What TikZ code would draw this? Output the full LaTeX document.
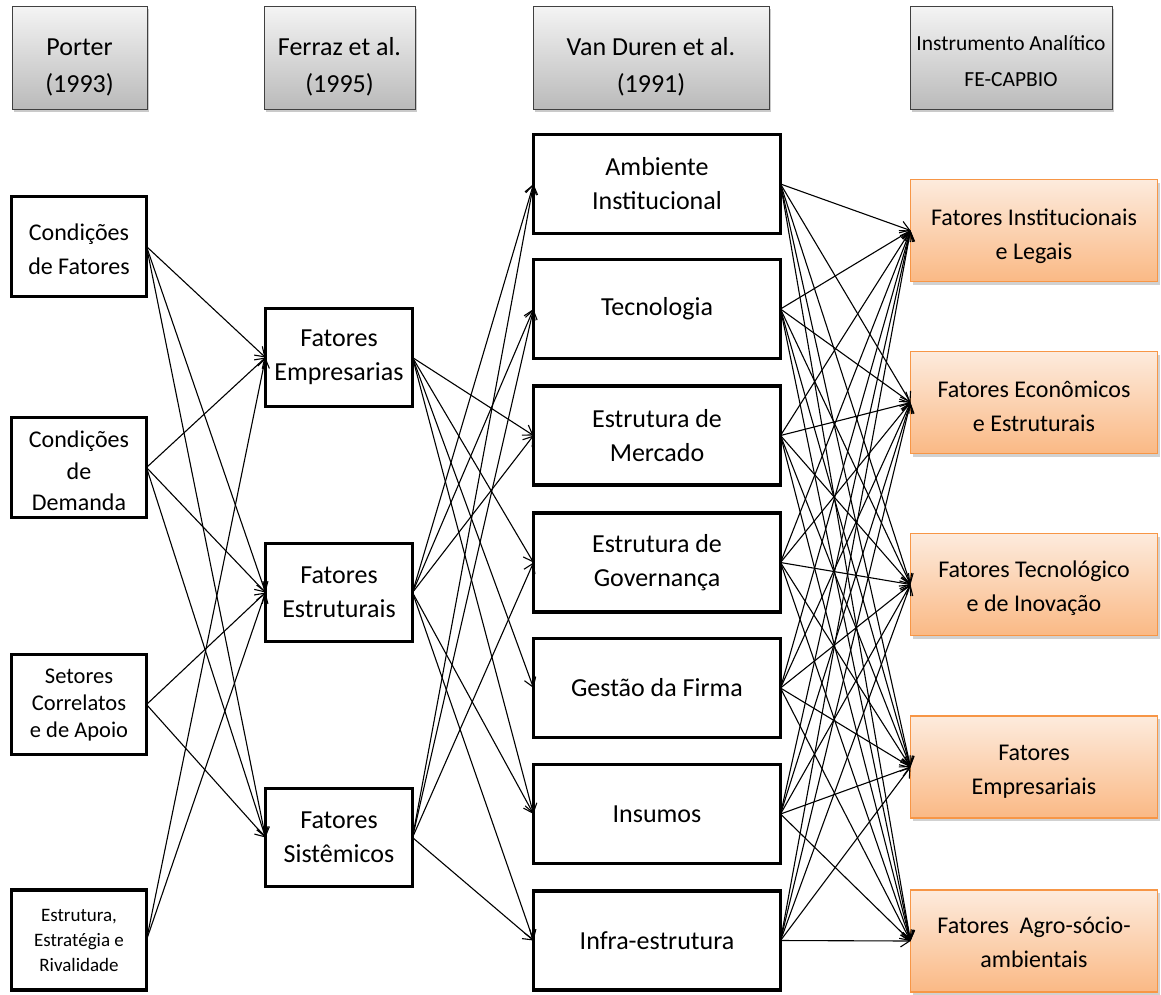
\documentclass[tikz,border=0pt]{standalone}
\usepackage{fontspec}
\setmainfont{Carlito}
\usetikzlibrary{arrows.meta,shadows}
\definecolor{orbord}{HTML}{F79646}
\definecolor{ortop}{HTML}{FDEBDD}
\definecolor{orbot}{HTML}{FAB985}
\definecolor{grtop}{HTML}{F4F4F4}
\definecolor{grbot}{HTML}{BABABA}
\newcommand{\mlines}[2]{\raisebox{-#1pt}[\height][\depth]{\begin{tabular}{@{}c@{}}#2\end{tabular}}}
\begin{document}
\begin{tikzpicture}[x=1pt,y=-1pt,
  hdr/.style={draw=black!75,line width=1pt,top color=grtop,bottom color=grbot,
    minimum height=103pt,inner sep=0pt,outer sep=0pt,align=center,
    drop shadow={shadow xshift=2pt,shadow yshift=-3pt,opacity=0.35,fill=black!60},
    font=\fontsize{26}{37}\selectfont},
  wbox/.style={draw=black,line width=3.6pt,fill=white,inner sep=0pt,outer sep=0pt,
    align=center,font=\fontsize{26}{34}\selectfont},
  pbox/.style={wbox,minimum width=135pt,minimum height=100pt,font=\fontsize{24}{34}\selectfont},
  fbox/.style={wbox,minimum width=147pt,minimum height=98pt},
  vbox/.style={wbox,minimum width=247pt,minimum height=99pt},
  obox/.style={draw=orbord,line width=1.5pt,top color=ortop,bottom color=orbot,
    minimum width=247pt,minimum height=102pt,inner sep=0pt,outer sep=0pt,align=center,
    drop shadow={shadow xshift=2pt,shadow yshift=-3pt,opacity=0.3,fill=black!60},
    font=\fontsize{24}{34}\selectfont},
  arr/.style={line width=1.1pt,-{Straight Barb[length=9pt,width=12pt,line width=1.1pt]}}
]
\useasboundingbox (0,0) rectangle (1161,994);
% headers
\node[hdr,minimum width=135pt] (hP) at (79.5,57.5) {\mlines{9}{Porter\\(1993)}};
\node[hdr,minimum width=151pt] (hF) at (339.5,57.5) {\mlines{9}{Ferraz et al.\\(1995)}};
\node[hdr,minimum width=236pt] (hV) at (651,57.5) {\mlines{9}{Van Duren et al.\\(1991)}};
\node[hdr,minimum width=202pt,font=\fontsize{21.5}{36}\selectfont] (hI) at (1011,57.5) {\mlines{3.5}{Instrumento Analítico\\FE-CAPBIO}};
% Porter
\node[pbox] (cf) at (79,246.5) {\mlines{4}{Condições\\de Fatores}};
\node[pbox,font=\fontsize{24}{31.5}\selectfont] (cd) at (79,467.5) {\mlines{5.5}{Condições\\de\\Demanda}};
\node[pbox,font=\fontsize{22.5}{27}\selectfont] (sc) at (79,704.5) {Setores\\Correlatos\\e de Apoio};
\node[pbox,font=\fontsize{19}{25}\selectfont] (ee) at (79,940) {Estrutura,\\Estratégia e\\Rivalidade};
% Ferraz
\node[fbox] (fe) at (339,357.5) {Fatores\\Empresarias};
\node[fbox] (fs) at (339,592.5) {Fatores\\Estruturais};
\node[fbox] (fy) at (339,837.5) {Fatores\\Sistêmicos};
% Van Duren
\node[vbox] (v1) at (657,184) {Ambiente\\Institucional};
\node[vbox] (v2) at (657,309) {Tecnologia};
\node[vbox] (v3) at (657,435.5) {Estrutura de\\Mercado};
\node[vbox] (v4) at (657,562.5) {Estrutura de\\Governança};
\node[vbox] (v5) at (657,688) {Gestão da Firma};
\node[vbox] (v6) at (657,814) {Insumos};
\node[vbox] (v7) at (657,940.5) {Infra-estrutura};
% Instrumento
\node[obox] (o1) at (1034,230.5) {\mlines{5.5}{Fatores Institucionais\\e Legais}};
\node[obox] (o2) at (1034,402.5) {\mlines{5}{Fatores Econômicos\\e Estruturais}};
\node[obox] (o3) at (1034,584.5) {\mlines{3}{Fatores Tecnológico\\e de Inovação}};
\node[obox] (o4) at (1034,767) {\mlines{3.5}{Fatores\\Empresariais}};
\node[obox] (o5) at (1034,941) {\mlines{3}{Fatores\ \ Agro-sócio-\\ambientais}};
% Porter -> Ferraz
\foreach \a/\b in {cf/fe,cf/fs,cf/fy,cd/fe,cd/fs,cd/fy,sc/fs,sc/fy,ee/fe,ee/fs}
  \draw[arr] (\a.east) -- (\b.west);
% Ferraz -> Van Duren
\foreach \a/\b in {fe/v3,fe/v4,fe/v5,fe/v6,fs/v1,fs/v2,fs/v3,fs/v6,fs/v7,fy/v1,fy/v2,fy/v4,fy/v7}
  \draw[arr] (\a.east) -- (\b.west);
% Van Duren -> Instrumento
\foreach \a in {v1,v2,v3,v4,v5,v6,v7}
  \foreach \b in {o1,o2,o3,o4,o5}
    \draw[arr] (\a.east) -- (\b.west);
\end{tikzpicture}
\end{document}
